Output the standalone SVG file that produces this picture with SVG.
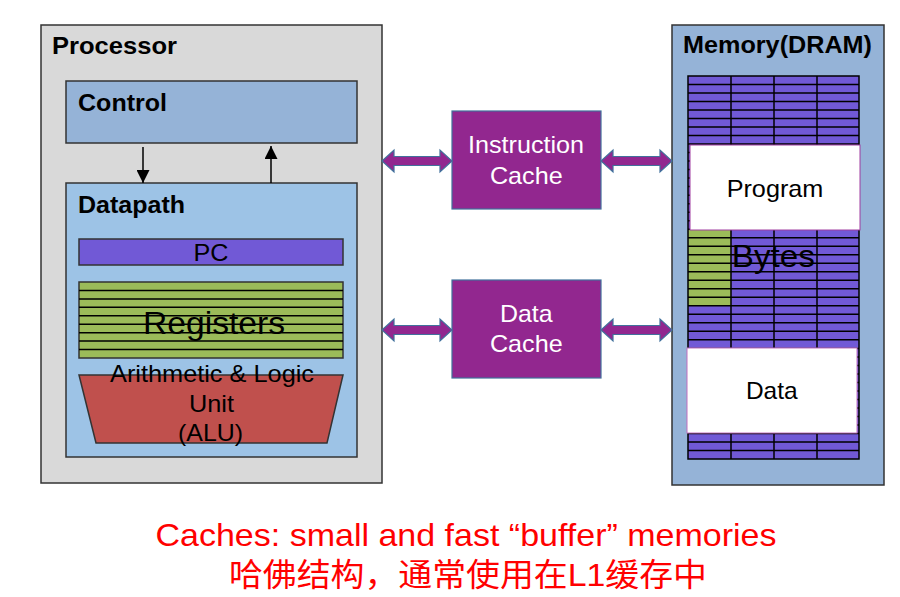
<svg xmlns="http://www.w3.org/2000/svg" width="900" height="597" viewBox="0 0 900 597">
<style>
.lbl{font-family:"Liberation Sans",Arial,sans-serif;font-weight:bold;font-size:24px;fill:#000}
.txt{font-family:"Liberation Sans",Arial,sans-serif;font-size:24px;fill:#000;text-anchor:middle}
.big{font-family:"Liberation Sans",Arial,sans-serif;font-size:32px;fill:#000;text-anchor:middle}
.wt{font-family:"Liberation Sans",Arial,sans-serif;font-size:24px;fill:#fff;text-anchor:middle}
.box{stroke:#333;stroke-width:1.5}
.cache{fill:#92278f;stroke:#41719c;stroke-width:1.2}
.dbl{fill:#92278f;stroke:#41719c;stroke-width:1.2}
.grid{stroke:#000;stroke-width:1.5;fill:none}
.cap{font-family:"Liberation Sans","Noto Sans CJK SC",Arial,sans-serif;font-size:32px;fill:#ff0000;text-anchor:middle}
</style>
<defs>
<marker id="ah" viewBox="0 0 10 10" refX="10" refY="5" markerWidth="14" markerHeight="13" markerUnits="userSpaceOnUse" orient="auto">
<path d="M0,0 L10,5 L0,10 Z" fill="#000"/>
</marker>
</defs>
<rect width="900" height="597" fill="#fff"/>

<g id="processor">
<rect x="41" y="25" width="341" height="458" fill="#d9d9d9" class="box"/>
<text class="lbl" x="52" y="54" textLength="125" lengthAdjust="spacingAndGlyphs">Processor</text>
</g>

<g id="control">
<rect x="66" y="81" width="291" height="62" fill="#95b3d7" class="box"/>
<text class="lbl" x="78" y="111" textLength="89" lengthAdjust="spacingAndGlyphs">Control</text>
</g>

<g id="datapath">
<rect x="66" y="183" width="291" height="274" fill="#9dc3e6" class="box"/>
<text class="lbl" x="78" y="213" textLength="107" lengthAdjust="spacingAndGlyphs">Datapath</text>
</g>

<g id="pc">
<rect x="79" y="239" width="264" height="26" fill="#7159d6" class="box"/>
<text class="txt" x="211" y="261" textLength="35" lengthAdjust="spacingAndGlyphs">PC</text>
</g>

<g id="registers">
<rect x="79" y="282" width="264" height="76" fill="#9bbb59" class="box"/>
<path class="grid" d="M79 290.4h264M79 298.9h264M79 307.3h264M79 315.8h264M79 324.2h264M79 332.7h264M79 341.1h264M79 349.6h264"/>
<text class="big" x="214" y="334" textLength="142" lengthAdjust="spacingAndGlyphs">Registers</text>
</g>

<g id="alu">
<polygon points="79,375 343,375 327,443 96,443" fill="#c0504d" class="box"/>
<text class="txt" x="212" y="382" textLength="204" lengthAdjust="spacingAndGlyphs">Arithmetic &amp; Logic</text>
<text class="txt" x="211.5" y="411.5" textLength="45" lengthAdjust="spacingAndGlyphs">Unit</text>
<text class="txt" x="210.5" y="441" textLength="65" lengthAdjust="spacingAndGlyphs">(ALU)</text>
</g>

<g id="instruction-cache">
<rect x="452" y="111" width="149" height="98" class="cache"/>
<text class="wt" x="526" y="153" textLength="116" lengthAdjust="spacingAndGlyphs">Instruction</text>
<text class="wt" x="526.3" y="184" textLength="72.7" lengthAdjust="spacingAndGlyphs">Cache</text>
</g>

<g id="data-cache">
<rect x="452" y="280" width="149" height="98" class="cache"/>
<text class="wt" x="526.3" y="322" textLength="52.7" lengthAdjust="spacingAndGlyphs">Data</text>
<text class="wt" x="526.3" y="352" textLength="72.7" lengthAdjust="spacingAndGlyphs">Cache</text>
</g>

<g id="memory">
<rect x="672" y="25" width="212" height="460" fill="#95b3d7" class="box"/>
<text class="lbl" x="683" y="53" textLength="189" lengthAdjust="spacingAndGlyphs">Memory(DRAM)</text>
<rect x="688" y="76" width="171" height="383" fill="#7159d6"/>
<rect x="688" y="229.2" width="43" height="76.6" fill="#9bbb59"/>
<path class="grid" d="M688 84.5h171M688 93h171M688 101.5h171M688 110h171M688 118.6h171M688 127.1h171M688 135.6h171M688 144.1h171M688 152.6h171M688 161.1h171M688 169.6h171M688 178.1h171M688 186.6h171M688 195.2h171M688 203.7h171M688 212.2h171M688 220.7h171M688 229.2h171M688 237.7h171M688 246.2h171M688 254.7h171M688 263.2h171M688 271.8h171M688 280.3h171M688 288.8h171M688 297.3h171M688 305.8h171M688 314.3h171M688 322.8h171M688 331.3h171M688 339.8h171M688 348.4h171M688 356.9h171M688 365.4h171M688 373.9h171M688 382.4h171M688 390.9h171M688 399.4h171M688 407.9h171M688 416.4h171M688 425h171M688 433.5h171M688 442h171M688 450.5h171M731 76v383M774 76v383M817 76v383"/>
<rect x="688" y="76" width="171" height="383" class="grid"/>
<text class="big" x="773.3" y="267" textLength="83" lengthAdjust="spacingAndGlyphs">Bytes</text>
</g>

<g id="program">
<rect x="690" y="145" width="170" height="85" fill="#fff" stroke="#a03ca0" stroke-width="1"/>
<text class="txt" x="775" y="197" textLength="96.7" lengthAdjust="spacingAndGlyphs">Program</text>
</g>

<g id="data">
<rect x="687" y="348" width="170" height="85" fill="#fff" stroke="#c070c0" stroke-width="1"/>
<text class="txt" x="771.8" y="399" textLength="51.7" lengthAdjust="spacingAndGlyphs">Data</text>
</g>

<g id="connectors">
<line x1="143" y1="147" x2="143" y2="183" stroke="#000" stroke-width="1.5" marker-end="url(#ah)"/>
<line x1="271" y1="183" x2="271" y2="146" stroke="#000" stroke-width="1.5" marker-end="url(#ah)"/>
<path class="dbl" d="M382,161 L394,150 L394,156.5 L440,156.5 L440,150 L452,161 L440,172 L440,165.5 L394,165.5 L394,172 Z"/>
<path class="dbl" d="M601,161 L613,150 L613,156.5 L660,156.5 L660,150 L672,161 L660,172 L660,165.5 L613,165.5 L613,172 Z"/>
<path class="dbl" d="M382,330 L394,319 L394,325.5 L440,325.5 L440,319 L452,330 L440,341 L440,334.5 L394,334.5 L394,341 Z"/>
<path class="dbl" d="M601,330 L613,319 L613,325.5 L660,325.5 L660,319 L672,330 L660,341 L660,334.5 L613,334.5 L613,341 Z"/>
</g>

<g id="caption">
<text class="cap" x="466" y="546" textLength="621" lengthAdjust="spacingAndGlyphs">Caches: small and fast “buffer” memories</text>
<text class="cap" x="468" y="586" textLength="478" lengthAdjust="spacingAndGlyphs">哈佛结构，通常使用在L1缓存中</text>
</g>
</svg>
